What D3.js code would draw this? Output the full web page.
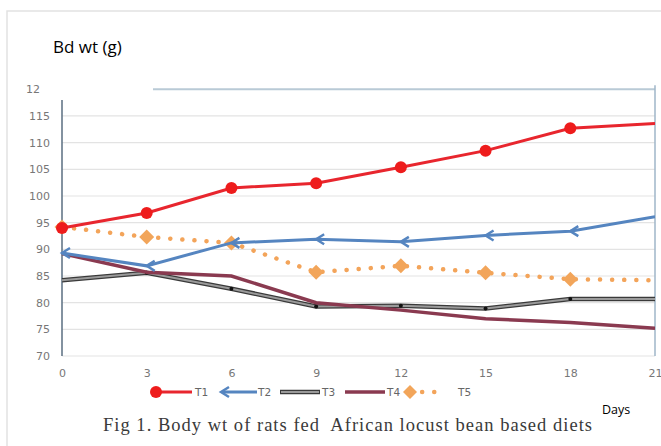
<!DOCTYPE html>
<html><head><meta charset="utf-8">
<script src="https://cdn.jsdelivr.net/npm/d3@7/dist/d3.min.js"></script>
<style>body{margin:0;background:#fff}svg{display:block}</style>
</head><body>
<svg id="c" width="661" height="446"></svg>
<script>
const days = [0, 3, 6, 9, 12, 15, 18, 21];
const T1 = [94, 96.8, 101.5, 102.4, 105.4, 108.5, 112.7, 113.6];
const T2 = [89.3, 86.9, 91.2, 91.9, 91.4, 92.6, 93.4, 96.1];
const T3 = [84.2, 85.6, 82.6, 79.3, 79.4, 78.9, 80.7, 80.7];
const T4 = [89.2, 85.7, 85.0, 80.0, 78.6, 77.0, 76.3, 75.2];
const T5 = [94.2, 92.3, 91.2, 85.7, 86.9, 85.6, 84.4, 84.2];
const seriesNames = ["T1", "T2", "T3", "T4", "T5"];
const yTicks = [70, 75, 80, 85, 90, 95, 100, 105, 110, 115];
const xTicks = [0, 3, 6, 9, 12, 15, 18, 21];

const svg = d3.select("#c");
const x = d3.scaleLinear().domain([0, 21]).range([62, 655]);
const y = d3.scaleLinear().domain([70, 120]).range([356, 89.3]);

// outer frame
svg.append("path").attr("d","M7,446 V11 H661").attr("fill","none").attr("stroke","#e2e2e2").attr("stroke-width",1.5);

// gridlines
svg.append("g").selectAll("line").data(yTicks).join("line")
  .attr("x1", x(0)).attr("x2", x(21)).attr("y1", d=>y(d)).attr("y2", d=>y(d))
  .attr("stroke", "#e3e3e3").attr("stroke-width", 1.2);
// top line at 120
svg.append("line").attr("x1",153).attr("x2",x(21)).attr("y1",y(120)).attr("y2",y(120))
  .attr("stroke","#b9cad6").attr("stroke-width",2);
// right line
svg.append("line").attr("x1",x(21)).attr("x2",x(21)).attr("y1",y(120)-4).attr("y2",y(70))
  .attr("stroke","#9fb6c8").attr("stroke-width",1.5);
// left axis
svg.append("line").attr("x1",x(0)).attr("x2",x(0)).attr("y1",100).attr("y2",y(70))
  .attr("stroke","#5a6e80").attr("stroke-width",1.5);

// y tick labels
const yAxis = d3.axisLeft(y).tickValues(yTicks.concat([120])).tickSize(0).tickPadding(0)
  .tickFormat(d => d === 120 ? "12" : d);
const ga = svg.append("g").attr("transform","translate(50,0)").call(yAxis);
ga.select(".domain").remove();
ga.selectAll("text").attr("font-family","DejaVu Sans").attr("font-size",11).attr("fill","#777");
ga.selectAll(".tick").filter(d=>d===120).select("text").attr("x",-10);

// x tick labels
const xAxis = d3.axisBottom(x).tickValues(xTicks).tickSize(0).tickPadding(0);
const gx = svg.append("g").attr("transform","translate(0,369)").call(xAxis);
gx.select(".domain").remove();
gx.selectAll("text").attr("font-family","DejaVu Sans").attr("font-size",11).attr("fill","#777");

const line = d3.line().x((d,i)=>x(days[i])).y(d=>y(d));
const clip = svg.append("clipPath").attr("id","cl").append("rect")
  .attr("x", x(0)-10).attr("y", 60).attr("width", x(21)-x(0)+10).attr("height", 320);

const g = svg.append("g").attr("clip-path","url(#cl)");

// T3 gray with dark outline
g.append("path").attr("d", line(T3)).attr("fill","none").attr("stroke","#3a3a3a").attr("stroke-width",4.5);
g.append("path").attr("d", line(T3)).attr("fill","none").attr("stroke","#9a9a9a").attr("stroke-width",2);
g.selectAll(".m3").data(T3.slice(1,7)).join("circle").attr("class","m3")
  .attr("cx",(d,i)=>x(days[i+1])).attr("cy",d=>y(d)).attr("r",2).attr("fill","#111");

// T4 maroon
g.append("path").attr("d", line(T4)).attr("fill","none").attr("stroke","#8a3a50").attr("stroke-width",3.5);

// T5 orange dotted
g.append("path").attr("d", line(T5)).attr("fill","none").attr("stroke","#f3a45a")
  .attr("stroke-width",4.5).attr("stroke-dasharray","0.1 12").attr("stroke-linecap","round");
const diamond = (cx,cy,s)=>`M${cx},${cy-s}L${cx+s},${cy}L${cx},${cy+s}L${cx-s},${cy}Z`;
g.selectAll(".m5").data(T5.slice(0,7)).join("path").attr("class","m5")
  .attr("d",(d,i)=>diamond(x(days[i]),y(d),7.5)).attr("fill","#f2a55a");

// T2 blue
g.append("path").attr("d", line(T2)).attr("fill","none").attr("stroke","#5585c0").attr("stroke-width",3);
const chev = (cx,cy)=>`M${cx+8},${cy-5}L${cx},${cy}L${cx+8},${cy+5}`;
g.selectAll(".m2").data(T2.slice(0,7)).join("path").attr("class","m2")
  .attr("d",(d,i)=>chev(x(days[i]),y(d))).attr("fill","none").attr("stroke","#5585c0").attr("stroke-width",2.5);

// T1 red
g.append("path").attr("d", line(T1)).attr("fill","none").attr("stroke","#e8262e").attr("stroke-width",3);
g.selectAll(".m1").data(T1.slice(0,7)).join("circle").attr("class","m1")
  .attr("cx",(d,i)=>x(days[i])).attr("cy",d=>y(d)).attr("r",6).attr("fill","#ee1c1c");

// white box top-left
svg.append("rect").attr("x",20).attr("y",14).attr("width",133).attr("height",70).attr("fill","#fff");
svg.append("text").attr("x",53).attr("y",53).attr("font-family","Open Sans").attr("font-size",17)
  .attr("fill","#000").text("Bd wt (g)");

// legend
const ly = 392;
const lg = svg.append("g").attr("font-family","DejaVu Sans").attr("font-size",10.5).attr("fill","#666");
lg.append("line").attr("x1",155).attr("x2",192).attr("y1",ly).attr("y2",ly).attr("stroke","#e8262e").attr("stroke-width",3);
lg.append("circle").attr("cx",156).attr("cy",ly).attr("r",6).attr("fill","#ee1c1c");
lg.append("text").attr("x",195).attr("y",ly+4).text(seriesNames[0]);
lg.append("line").attr("x1",222).attr("x2",257).attr("y1",ly).attr("y2",ly).attr("stroke","#5585c0").attr("stroke-width",3);
lg.append("path").attr("d",chev(221,ly)).attr("fill","none").attr("stroke","#5585c0").attr("stroke-width",2.5);
lg.append("text").attr("x",258).attr("y",ly+4).text(seriesNames[1]);
lg.append("line").attr("x1",280).attr("x2",320).attr("y1",ly).attr("y2",ly).attr("stroke","#3a3a3a").attr("stroke-width",4.5);
lg.append("line").attr("x1",281).attr("x2",319).attr("y1",ly).attr("y2",ly).attr("stroke","#9a9a9a").attr("stroke-width",2);
lg.append("text").attr("x",322).attr("y",ly+4).text(seriesNames[2]);
lg.append("line").attr("x1",345).attr("x2",385).attr("y1",ly).attr("y2",ly).attr("stroke","#8a3a50").attr("stroke-width",3.5);
lg.append("text").attr("x",387).attr("y",ly+4).text(seriesNames[3]);
lg.append("line").attr("x1",410).attr("x2",445).attr("y1",ly).attr("y2",ly).attr("stroke","#f3a45a")
  .attr("stroke-width",4.5).attr("stroke-dasharray","0.1 12").attr("stroke-linecap","round");
lg.append("path").attr("d",diamond(410,ly,7)).attr("fill","#f2a55a");
lg.append("text").attr("x",458).attr("y",ly+4).text(seriesNames[4]);

svg.append("text").attr("x",602).attr("y",414).attr("font-family","Open Sans").attr("font-size",12.5)
  .attr("fill","#000").text("Days");

svg.append("text").attr("x",103).attr("y",431).attr("font-family","Liberation Serif").attr("font-size",18.5)
  .attr("fill","#3a3a3a").attr("textLength",489).attr("lengthAdjust","spacing")
  .style("white-space","pre")
  .text("Fig 1. Body wt of rats fed  African locust bean based diets");
</script>
</body></html>
